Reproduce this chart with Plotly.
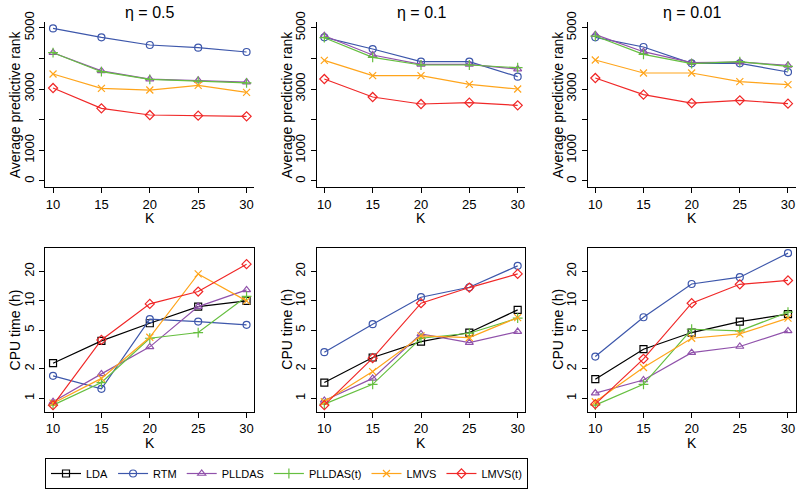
import plotly.graph_objects as go

# Number of topics
K = [10, 15, 20, 25, 30]
etas = ["0.5", "0.1", "0.01"]

# Average predictive rank (top row), one list per eta
rank_RTM = [[4978, 4685, 4435, 4348, 4207],
            [4685, 4304, 3891, 3891, 3402],
            [4685, 4370, 3837, 3837, 3554]]
rank_PLLDAS = [[4185, 3590, 3325, 3285, 3228],
               [4739, 4109, 3804, 3804, 3652],
               [4772, 4217, 3859, 3880, 3772]]
rank_PLLDASt = [[4185, 3565, 3315, 3250, 3200],
                [4674, 4033, 3783, 3783, 3696],
                [4728, 4130, 3826, 3891, 3739]]
rank_LMVS = [[3489, 3022, 2967, 3120, 2891],
             [3935, 3435, 3435, 3152, 3000],
             [3946, 3522, 3522, 3239, 3141]]
rank_LMVSt = [[3033, 2370, 2152, 2130, 2109],
              [3326, 2739, 2511, 2554, 2467],
              [3359, 2815, 2543, 2630, 2522]]

# CPU time in hours (bottom row), one list per eta
cpu_LDA = [[2.29, 3.88, 5.89, 8.74, 10.0],
           [1.45, 2.62, 3.82, 4.73, 8.08],
           [1.57, 3.19, 4.73, 6.13, 7.30]]
cpu_RTM = [[1.70, 1.25, 6.48, 6.13, 5.67],
           [2.97, 5.76, 10.9, 13.8, 22.9],
           [2.68, 6.79, 14.9, 17.5, 30.9]]
cpu_PLLDAS = [[0.92, 1.78, 3.37, 8.74, 12.97],
              [0.95, 1.60, 4.58, 3.73, 4.84],
              [1.13, 1.54, 2.94, 3.40, 4.92]]
cpu_PLLDASt = [[0.85, 1.45, 4.13, 4.73, 11.1],
               [0.87, 1.39, 4.13, 4.65, 6.64],
               [0.85, 1.39, 5.11, 4.92, 7.65]]
cpu_LMVS = [[0.89, 1.60, 4.23, 18.9, 10.0],
            [0.92, 1.88, 4.37, 4.20, 6.74],
            [0.92, 2.07, 4.13, 4.58, 6.64]]
cpu_LMVSt = [[0.85, 3.97, 9.31, 12.47, 23.8],
             [0.85, 2.58, 9.46, 13.7, 18.9],
             [0.87, 2.54, 9.46, 14.8, 16.2]]

methods = ["LDA", "RTM", "PLLDAS", "PLLDAS(t)", "LMVS", "LMVS(t)"]
colors = {"LDA": "black", "RTM": "#3d57ab", "PLLDAS": "#9052ab",
          "PLLDAS(t)": "#66bf40", "LMVS": "#ffa51c", "LMVS(t)": "#f02828"}
symbols = {"LDA": "square-open", "RTM": "circle-open", "PLLDAS": "triangle-up-open",
           "PLLDAS(t)": "cross-thin-open", "LMVS": "x-thin-open", "LMVS(t)": "diamond-open"}

rank_data = {"RTM": rank_RTM, "PLLDAS": rank_PLLDAS, "PLLDAS(t)": rank_PLLDASt,
             "LMVS": rank_LMVS, "LMVS(t)": rank_LMVSt}
cpu_data = {"LDA": cpu_LDA, "RTM": cpu_RTM, "PLLDAS": cpu_PLLDAS,
            "PLLDAS(t)": cpu_PLLDASt, "LMVS": cpu_LMVS, "LMVS(t)": cpu_LMVSt}

W, H = 797, 495
FONT = "Liberation Sans, Arial, sans-serif"

# pixel boxes of the panels
cols = [(45.3, 254.3), (316.6, 525.4), (587.6, 795.7)]
top_row = (22, 187)
bot_row = (247.5, 411.7)


def px_x(a, b):
    return [a / W, b / W]


def px_y(a, b):
    return [1 - b / H, 1 - a / H]


def note(text, x, y, size, angle=0):
    return dict(text=text, x=x / W, y=1 - y / H, xref="paper", yref="paper",
                showarrow=False, xanchor="center", yanchor="middle", textangle=angle,
                font=dict(size=size, color="black", family=FONT))


fig = go.Figure()
layout = {}
notes = []

for i in range(3):
    # top row: axes i*2+1, bottom row: axes i*2+2
    nt = 2 * i + 1
    nb = 2 * i + 2
    xt, yt = "x%d" % nt, "y%d" % nt
    xb, yb = "x%d" % nb, "y%d" % nb

    for m in methods:
        if m in rank_data:
            fig.add_trace(go.Scatter(
                x=K, y=rank_data[m][i], mode="lines+markers", name=m,
                xaxis=xt, yaxis=yt, showlegend=False,
                line=dict(color=colors[m], width=1.2),
                marker=dict(symbol=symbols[m], size=7, color=colors[m],
                            line=dict(color=colors[m], width=1.2))))
        fig.add_trace(go.Scatter(
            x=K, y=cpu_data[m][i], mode="lines+markers", name=m,
            xaxis=xb, yaxis=yb, showlegend=(i == 0),
            line=dict(color=colors[m], width=1.2),
            marker=dict(symbol=symbols[m], size=7, color=colors[m],
                        line=dict(color=colors[m], width=1.2))))

    common_x = dict(range=[9.2, 30.8], tickvals=K, ticks="outside", ticklen=5,
                    showline=True, linecolor="black", linewidth=1, automargin=False,
                    showgrid=False, zeroline=False, tickcolor="black",
                    tickfont=dict(size=13, color="black"))
    layout["xaxis%d" % nt] = dict(common_x, domain=px_x(*cols[i]), anchor=yt)
    layout["xaxis%d" % nb] = dict(common_x, domain=px_x(*cols[i]), anchor=yb, mirror=True)

    layout["yaxis%d" % nt] = dict(
        domain=px_y(*top_row), anchor=xt, range=[-196, 5186], automargin=False,
        tickvals=[0, 1000, 2000, 3000, 4000, 5000],
        ticktext=["0", "1000", "", "3000", "", "5000"],
        tickangle=-90, ticks="outside", ticklen=5, tickcolor="black",
        showline=True, linecolor="black", linewidth=1,
        showgrid=False, zeroline=False,
        tickfont=dict(size=13, color="black"))
    layout["yaxis%d" % nb] = dict(
        domain=px_y(*bot_row), anchor=xb, type="log", range=[-0.138, 1.548], automargin=False,
        tickvals=[1, 2, 5, 10, 20], ticktext=["1", "2", "5", "10", "20"],
        tickangle=-90, ticks="outside", ticklen=5, tickcolor="black",
        showline=True, linecolor="black", linewidth=1, mirror=True,
        showgrid=False, zeroline=False,
        tickfont=dict(size=13, color="black"))

    # panel title and axis titles
    cx = sum(cols[i]) / 2
    notes.append(note("η = " + etas[i], cx, 13, 16))
    notes.append(note("Average predictive rank", cols[i][0] - 30.5, sum(top_row) / 2, 14, -90))
    notes.append(note("CPU time (h)", cols[i][0] - 30.5, sum(bot_row) / 2, 14, -90))
    notes.append(note("K", cx, 218, 14))
    notes.append(note("K", cx, 443, 14))

fig.update_layout(
    **layout,
    annotations=notes,
    width=W, height=H,
    margin=dict(l=0, r=0, t=0, b=0, autoexpand=False),
    paper_bgcolor="white", plot_bgcolor="white",
    font=dict(family=FONT, color="black"),
    legend=dict(orientation="h", x=45 / W, y=1 - 458 / H, xanchor="left", yanchor="top",
                bordercolor="black", borderwidth=1, bgcolor="white",
                font=dict(size=11, color="black")),
)

# the page body has a default 8px margin; drop it so the figure sits at the corner
fig.write_html("out.html", config={"displayModeBar": False},
               post_script="document.body.style.margin='0px';")
